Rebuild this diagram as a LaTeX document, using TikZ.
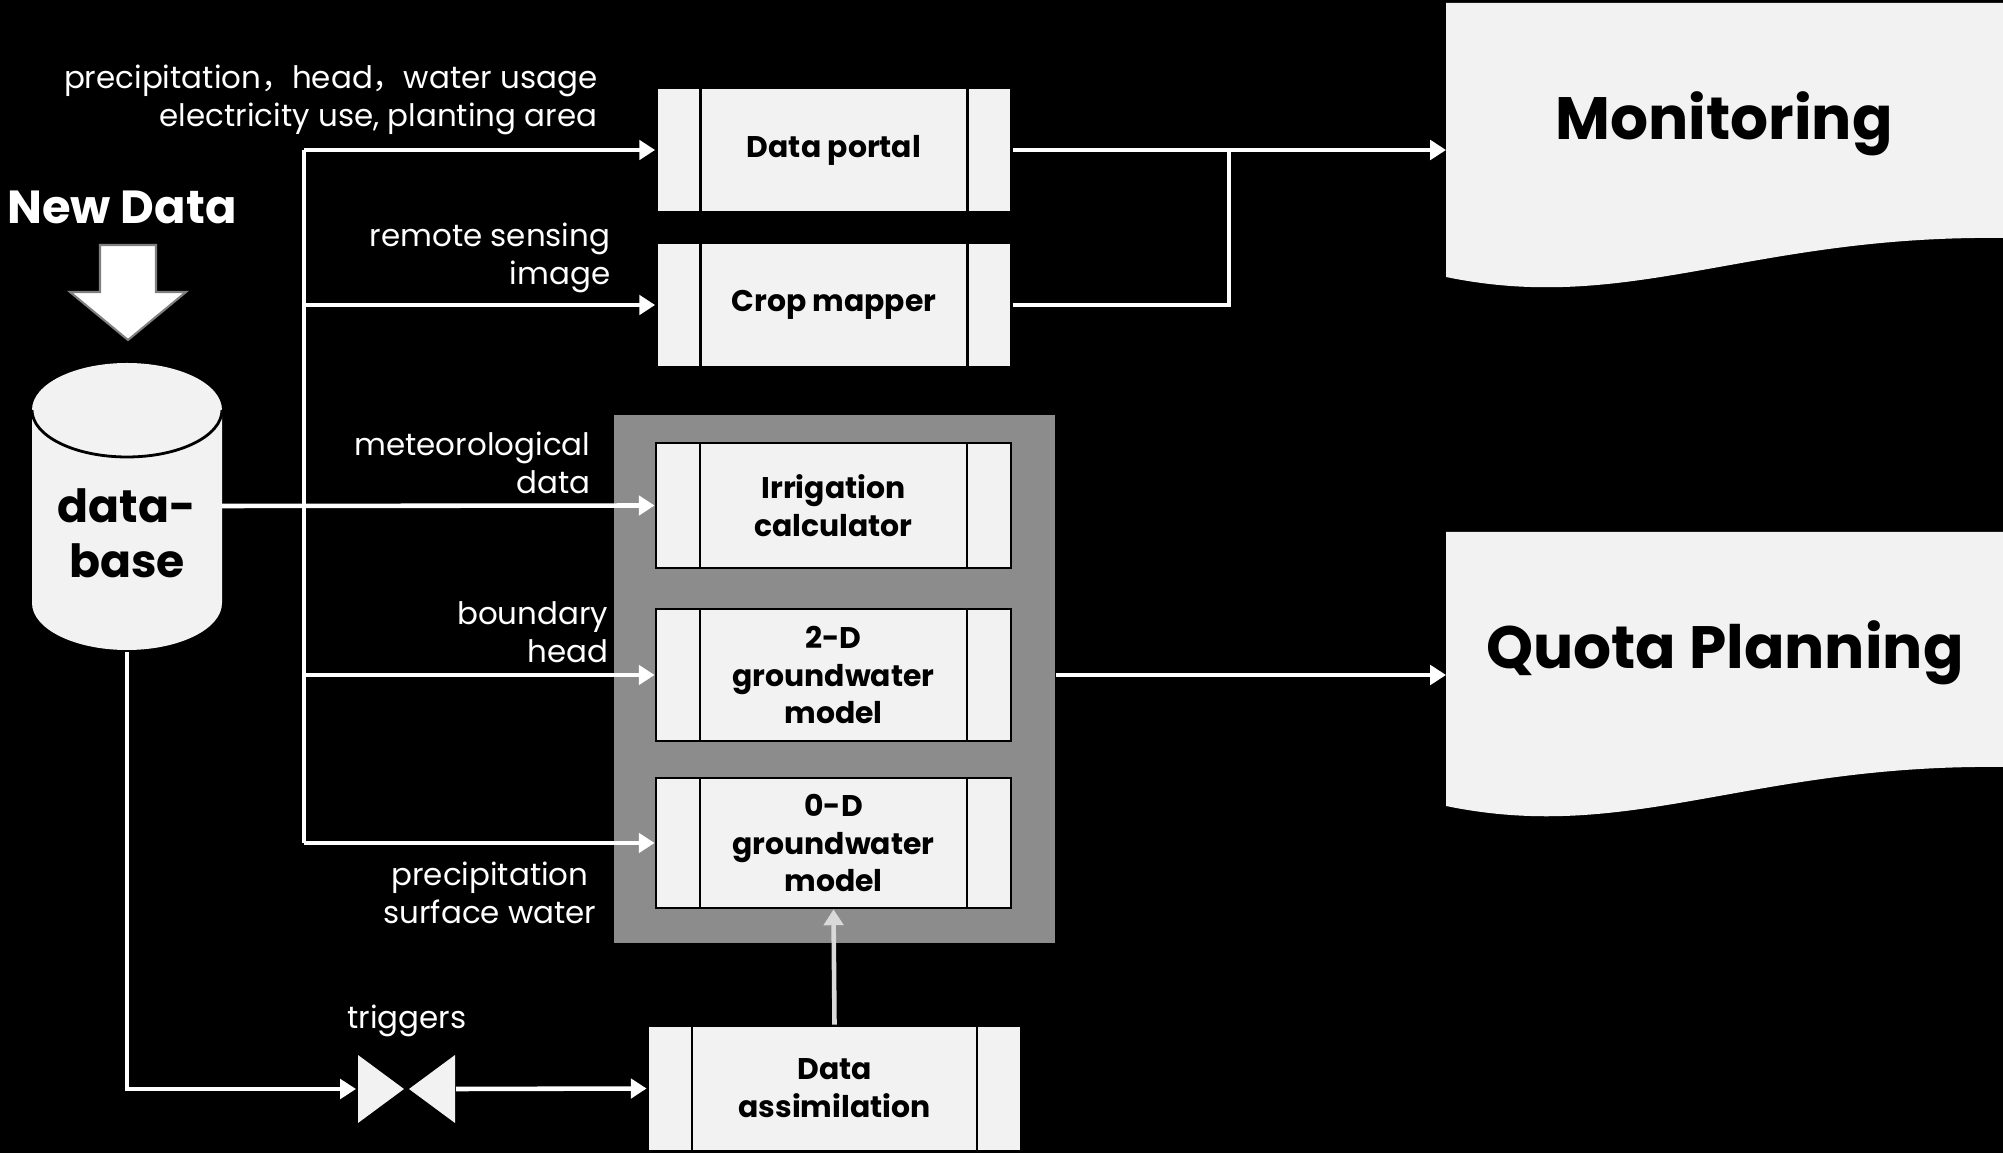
\documentclass[tikz,border=0pt]{standalone}
\usepackage{fontspec}
\setmainfont{Poppins}
\newfontfamily\cjk{Noto Sans CJK SC}
\usetikzlibrary{arrows.meta}

\definecolor{boxfill}{HTML}{F2F2F2}
\definecolor{panelgray}{HTML}{8C8C8C}

\tikzset{
    proc/.style={draw=black, line width=0.8pt, fill=boxfill, minimum width=3.55cm, minimum height=1.25cm,
        align=center, inner sep=0pt, font=\fontsize{8.5}{10.8}\selectfont\bfseries,
        path picture={\draw[line width=0.8pt]
            ([xshift=0.44cm]path picture bounding box.north west) -- ([xshift=0.44cm]path picture bounding box.south west)
            ([xshift=-0.44cm]path picture bounding box.north east) -- ([xshift=-0.44cm]path picture bounding box.south east);}},
}

\begin{document}
\begin{tikzpicture}[
    flow/.style={draw=white, line width=1.3pt, -{Triangle[length=4.5pt,width=5.5pt]}},
    wire/.style={draw=white, line width=1.3pt},
    lbl/.style={text=white, align=right, anchor=east, inner sep=0pt, font=\fontsize{8.8}{10.8}\selectfont},
    title/.style={text=black, font=\fontsize{17}{20}\selectfont\bfseries}
]
    % \draw[help lines] grid(20,-12);
    \fill[black] (0,0) rectangle (20.03,-11.53);
    \useasboundingbox (0,0) rectangle (20.03,-11.53);

    % output sheets
    \fill[boxfill] (14.46,-0.03) -- (20.03,-0.03) -- (20.03,-2.38) .. controls (17.5,-2.35) and (16.3,-3.15) .. (14.46,-2.77) -- cycle;
    \fill[boxfill] (14.46,-5.32) -- (20.03,-5.32) -- (20.03,-7.67) .. controls (17.5,-7.64) and (16.3,-8.44) .. (14.46,-8.06) -- cycle;
    \node[title] (monitor) at (17.24,-1.24) {Monitoring};
    \node[title] (quota) at (17.25,-6.53) {Quota Planning};
    \coordinate (monin) at (14.46,-1.50);
    \coordinate (quotain) at (14.46,-6.75);

    % new data and database
    \node[text=white, font=\fontsize{13.2}{16}\selectfont\bfseries] (newdata) at (1.22,-2.07) {New Data};
    \filldraw[fill=white, draw=gray, line width=0.6pt] (1.00,-2.45) -- (1.56,-2.45) -- (1.56,-2.92) -- (1.86,-2.92) -- (1.28,-3.40) -- (0.70,-2.92) -- (1.00,-2.92) -- cycle;
    \fill[boxfill] (0.32,-4.10) -- (0.32,-6.03) arc[start angle=180, end angle=360, x radius=0.95, y radius=0.47] -- (2.22,-4.10) arc[start angle=0, end angle=180, x radius=0.95, y radius=0.47] -- cycle;
    \draw[line width=0.8pt] (0.32,-4.10) arc[start angle=180, end angle=360, x radius=0.95, y radius=0.47];
    \node[font=\fontsize{13}{15.6}\selectfont\bfseries, align=center] (db) at (1.27,-5.33) {data-\\base};
    \coordinate (dbout) at (2.22,-5.06);
    \coordinate (dbfoot) at (1.27,-6.52);

    % model panel
    \node[fill=panelgray, minimum width=4.41cm, minimum height=5.28cm, inner sep=0pt] (panel) at (8.345,-6.79) {};

    \node[proc] (portal) at (8.34,-1.50) {Data portal};
    \node[proc] (cropmap) at (8.34,-3.05) {Crop mapper};
    \node[proc] (irrig) at (8.335,-5.055) {Irrigation\\calculator};
    \node[proc, minimum height=1.32cm] (gw2d) at (8.335,-6.75) {2-D\\groundwater\\model};
    \node[proc, minimum height=1.30cm] (gw0d) at (8.335,-8.43) {0-D\\groundwater\\model};
    \node[proc, minimum width=3.73cm] (assim) at (8.345,-10.885) {Data\\assimilation};

    % valve
    \fill[boxfill] (3.58,-10.55) -- (4.04,-10.89) -- (3.58,-11.23) -- cycle;
    \fill[boxfill] (4.55,-10.55) -- (4.09,-10.89) -- (4.55,-11.23) -- cycle;
    \coordinate (valvein) at (3.56,-10.89);
    \coordinate (valveout) at (4.56,-10.89);
    \node[text=white, font=\fontsize{8.8}{10.8}\selectfont] (trig) at (4.07,-10.21) {triggers};

    % inputs
    \coordinate (bustop) at (3.04,-1.50);
    \coordinate (busbot) at (3.04,-8.43);
    \coordinate (join) at (12.29,-1.50);
    \draw[wire] (bustop) -- (busbot);
    \draw[flow] (bustop) -- (portal.west);
    \draw[flow] (bustop |- cropmap) -- (cropmap.west);
    \draw[flow] (dbout) -- (irrig.west);
    \draw[flow] (bustop |- gw2d) -- (gw2d.west);
    \draw[flow] (busbot) -- (gw0d.west);
    \draw[flow] (dbfoot) |- (valvein);
    \draw[flow] (valveout) -- (assim.west);
    \draw[flow, draw=white!85!black] (assim.north) -- (gw0d.south);

    % outputs
    \draw[flow] (portal.east) -- (monin);
    \draw[wire] (cropmap.east) -| (join);
    \draw[flow] (panel.east |- gw2d) -- (quotain);

    \node[lbl] (lblportal) at (5.98,-1.00) {precipitation{\cjk ，}head{\cjk ，}water usage\\electricity use, planting area};
    \node[lbl] (lblcrop) at (6.11,-2.58) {remote sensing\\image};
    \node[lbl] (lblmet) at (5.91,-4.63) {meteorological\\data};
    \node[lbl] (lblbound) at (6.09,-6.32) {boundary\\head};
    \node[lbl, align=center, anchor=center] (lblprec) at (4.90,-8.93) {precipitation\\surface water};
\end{tikzpicture}
\end{document}
